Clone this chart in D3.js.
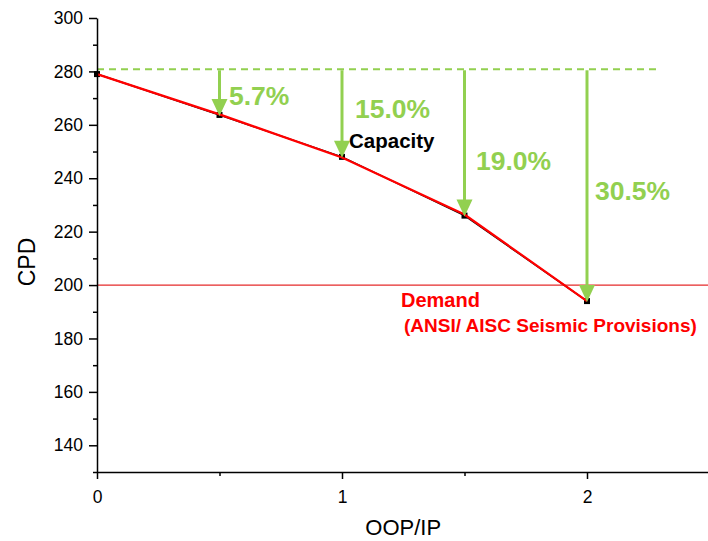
<!DOCTYPE html>
<html>
<head>
<meta charset="utf-8">
<script src="https://cdn.jsdelivr.net/npm/d3@7"></script>
<style>
  body { margin: 0; background: #fff; }
  svg { display: block; font-family: Arial, "Liberation Sans", sans-serif; }
</style>
</head>
<body>
<div class="chart-container"></div>
<script>
// Data
const ratios = [0, 0.5, 1, 1.5, 2];
const capacity = [279, 263.7, 248, 226, 194];
const capacityFit = [279, 263.9, 247.8, 226.4, 194];
const demand = 200;
const reference = 280.8;
const reductions = ['5.7%', '15.0%', '19.0%', '30.5%'];
const xTicks = [0, 1, 2];
const yTicks = [140, 160, 180, 200, 220, 240, 260, 280, 300];

const green = '#92d050';
const svg_width = 708;
const svg_height = 541;
const chart_margin = { top: 18, right: 0, bottom: 69, left: 97 };
const chart_height = svg_height - chart_margin.top - chart_margin.bottom;

const svg = d3.select('.chart-container').append('svg')
    .attr('width', svg_width).attr('height', svg_height);
const g = svg.append('g')
    .attr('transform', `translate(${chart_margin.left}, ${chart_margin.top})`);

// scales
const xScale = d3.scaleLinear().domain([0, 2.5]).range([0, 612.5]);
const yScale = d3.scaleLinear().domain([130, 300]).range([chart_height, 0]);

// Demand line
g.append('line')
    .attr('x1', xScale(0)).attr('x2', xScale(2.5))
    .attr('y1', yScale(demand)).attr('y2', yScale(demand))
    .attr('stroke', '#e52a2a').attr('stroke-width', 1.3);

// Reference dashed line
g.append('line')
    .attr('x1', xScale(0)).attr('x2', xScale(2.288))
    .attr('y1', yScale(reference)).attr('y2', yScale(reference))
    .attr('stroke', green).attr('stroke-width', 2)
    .attr('stroke-dasharray', '7,5');

// Capacity (black line + markers)
const line = d3.line().x((d, i) => xScale(ratios[i])).y(d => yScale(d));
g.append('path').datum(capacity)
    .attr('fill', 'none').attr('stroke', '#000').attr('stroke-width', 1.5)
    .attr('d', line);
g.selectAll('.marker').data(capacity).enter().append('rect')
    .attr('class', 'marker')
    .attr('x', (d, i) => xScale(ratios[i]) - 3)
    .attr('y', d => yScale(d) - 3)
    .attr('width', 6).attr('height', 6)
    .attr('fill', '#000');

// Red fit line
g.append('path').datum(capacityFit)
    .attr('fill', 'none').attr('stroke', '#ff0000').attr('stroke-width', 2.2)
    .attr('d', line);

// Arrows from reference to each point
const arrows = ratios.slice(1).map((r, i) => ({ x: r, y: capacity[i + 1], label: reductions[i] }));
const arrowG = g.selectAll('.arrow').data(arrows).enter().append('g').attr('class', 'arrow');
arrowG.append('line')
    .attr('x1', d => xScale(d.x)).attr('x2', d => xScale(d.x))
    .attr('y1', yScale(reference) + 1).attr('y2', d => yScale(d.y) - 12)
    .attr('stroke', green).attr('stroke-width', 3);
arrowG.append('path')
    .attr('d', d => {
        const x = xScale(d.x), y = yScale(d.y) + 1;
        return `M${x - 8},${y - 17} L${x + 8},${y - 17} L${x},${y} Z`;
    })
    .attr('fill', green);

// Percent labels
const labelPos = [[229, 105], [355, 118], [476, 170], [595, 200]];
svg.selectAll('.pct').data(arrows).enter().append('text')
    .attr('class', 'pct')
    .attr('x', (d, i) => labelPos[i][0]).attr('y', (d, i) => labelPos[i][1])
    .attr('fill', green).attr('font-size', 26.5).attr('font-weight', 'bold')
    .text(d => d.label);

// Annotations
svg.append('text').attr('x', 349).attr('y', 148)
    .attr('font-size', 20.5).attr('font-weight', 'bold').attr('fill', '#000')
    .text('Capacity');
svg.append('text').attr('x', 401).attr('y', 307)
    .attr('font-size', 20).attr('font-weight', 'bold').attr('fill', '#ff0000')
    .text('Demand');
svg.append('text').attr('x', 404).attr('y', 332)
    .attr('font-size', 19).attr('font-weight', 'bold').attr('fill', '#ff0000')
    .text('(ANSI/ AISC Seismic Provisions)');

// Axes
const xAxis = d3.axisBottom(xScale).tickValues(xTicks).tickFormat(d3.format('d'))
    .tickSizeInner(7).tickSizeOuter(0).tickPadding(12);
const xAxisDraw = g.append('g').attr('transform', `translate(0, ${chart_height})`).call(xAxis);
g.append('g').attr('transform', `translate(0, ${chart_height})`)
    .call(d3.axisBottom(xScale).tickValues([0.5, 1.5, 2.5]).tickFormat('').tickSizeInner(4).tickSizeOuter(0))
    .select('.domain').remove();

const yAxis = d3.axisLeft(yScale).tickValues(yTicks).tickSizeInner(8).tickSizeOuter(0).tickPadding(6);
g.append('g').call(yAxis);
g.append('g')
    .call(d3.axisLeft(yScale).tickValues(d3.range(130, 300, 20)).tickFormat('').tickSizeInner(4).tickSizeOuter(0))
    .select('.domain').remove();

g.selectAll('.domain, .tick line').attr('stroke', '#000').attr('stroke-width', 1.5);
g.selectAll('.tick text').attr('font-size', 17.5).attr('fill', '#000')
    .attr('font-family', 'Arial, "Liberation Sans", sans-serif');

// Axis titles
svg.append('text').attr('x', xScale(1.25) + chart_margin.left).attr('y', 535).attr('text-anchor', 'middle')
    .attr('font-size', 22).text('OOP/IP');
svg.append('text').attr('transform', 'translate(35, 262) rotate(-90)')
    .attr('text-anchor', 'middle').attr('font-size', 23).text('CPD');
</script>
</body>
</html>
